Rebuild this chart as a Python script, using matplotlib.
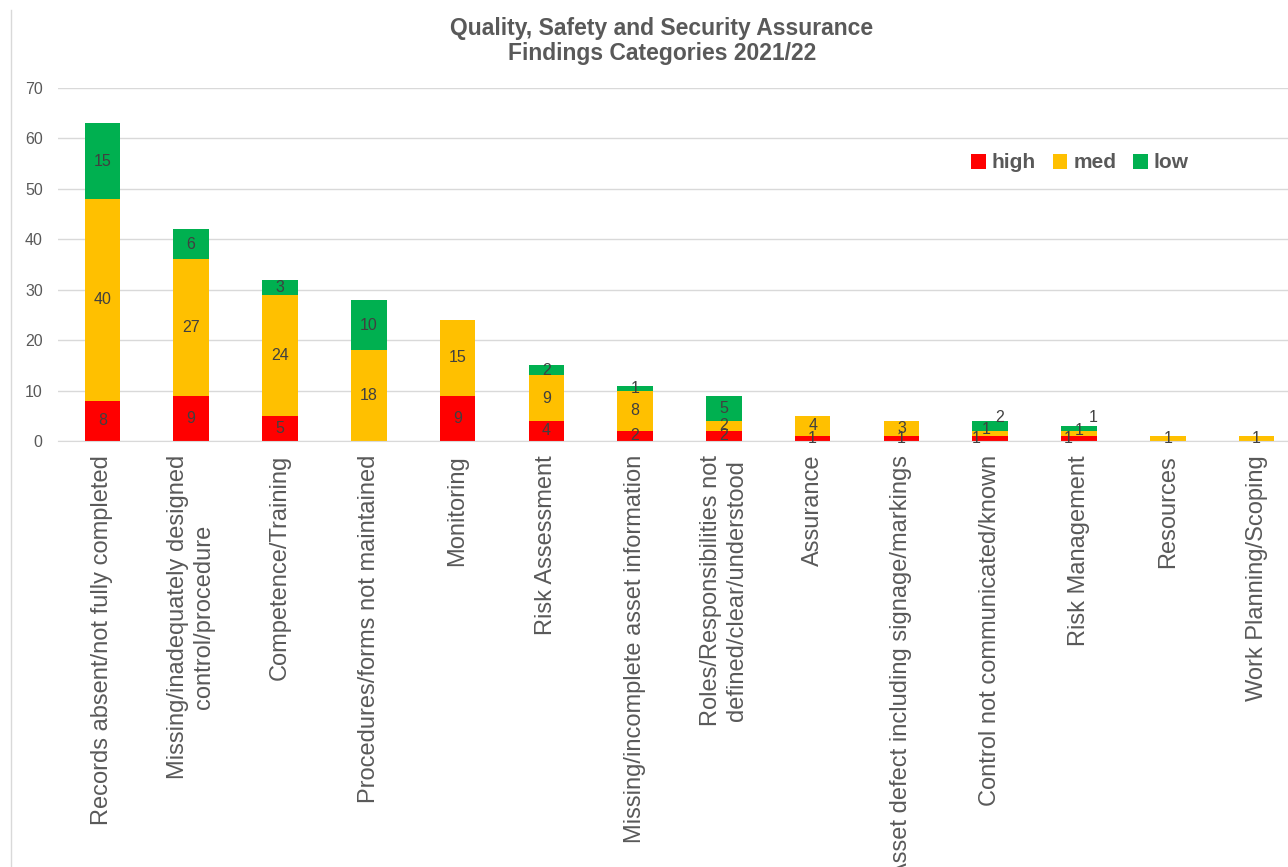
import matplotlib.pyplot as plt
import numpy as np

plt.rcParams['font.family'] = ['Liberation Sans', 'DejaVu Sans']

categories = ['Records absent/not fully completed',
              'Missing/inadequately designed\ncontrol/procedure',
              'Competence/Training',
              'Procedures/forms not maintained',
              'Monitoring',
              'Risk Assessment',
              'Missing/incomplete asset information',
              'Roles/Responsibilities not\ndefined/clear/understood',
              'Assurance',
              'Asset defect including signage/markings',
              'Control not communicated/known',
              'Risk Management',
              'Resources',
              'Work Planning/Scoping']
high = [8, 9, 5, 0, 9, 4, 2, 2, 1, 1, 1, 1, 0, 0]
med = [40, 27, 24, 18, 15, 9, 8, 2, 4, 3, 1, 1, 1, 1]
low = [15, 6, 3, 10, 0, 2, 1, 5, 0, 0, 2, 1, 0, 0]

# label nudges (points) for crowded small bars
nudge = {(10, 0): (-10, 0), (10, 1): (-3, 3), (10, 2): (7, 6),
         (11, 0): (-8, 0), (11, 1): (0, 2), (11, 2): (10, 8)}

fig = plt.figure(figsize=(12.88, 8.67), dpi=100)
ax = fig.add_axes([58 / 1288, 426 / 867, 1243 / 1288, 353 / 867])

x = np.arange(len(categories))
colors = ['#FF0000', '#FFC000', '#00B050']
names = ['high', 'med', 'low']
bottom = np.zeros(len(categories))
for si, (vals, c, n) in enumerate(zip([high, med, low], colors, names)):
    vals = np.array(vals)
    ax.bar(x, vals, 0.4, bottom=bottom, color=c, label=n, zorder=2)
    for i, v in enumerate(vals):
        if v > 0:
            dx, dy = nudge.get((i, si), (0, 0))
            ax.annotate(str(v), (i, bottom[i] + v / 2), xytext=(dx, dy),
                        textcoords='offset points', ha='center', va='center',
                        fontsize=11.5, color='#404040', zorder=3)
    bottom += vals

ax.set_xlim(-0.5, len(categories) - 0.5)
ax.set_ylim(0, 70)
ax.set_yticks(range(0, 71, 10))
ax.yaxis.grid(True, color='#D9D9D9', linewidth=1, zorder=0)
ax.set_axisbelow(True)
for s in ['top', 'right', 'left']:
    ax.spines[s].set_visible(False)
ax.spines['bottom'].set_color('#D9D9D9')
ax.tick_params(axis='y', length=0, labelsize=11.5, labelcolor='#595959', pad=11)
ax.tick_params(axis='x', length=0, labelsize=17, labelcolor='#595959', pad=10)
ax.set_xticks(x)
ax.set_xticklabels(categories, rotation=90, ha='center', va='top', multialignment='center')

fig.text(662 / 1288, 1 - 41 / 867, 'Quality, Safety and Security Assurance\nFindings Categories 2021/22',
         ha='center', va='center', fontsize=16.5, fontweight='bold', color='#595959', linespacing=1.15)

ax.legend(loc='center', bbox_to_anchor=(1080 / 1288, 1 - 163 / 867), bbox_transform=fig.transFigure,
          ncol=3, frameon=False, prop={'size': 15, 'weight': 'bold'}, labelcolor='#595959',
          handlelength=0.7, handleheight=0.7, handletextpad=0.3, columnspacing=0.8)

fig.add_artist(plt.Line2D([11 / 1288, 11 / 1288], [0, 1 - 10 / 867], transform=fig.transFigure,
                          color='#D9D9D9', linewidth=1))

fig.savefig('out.png', dpi=100)
